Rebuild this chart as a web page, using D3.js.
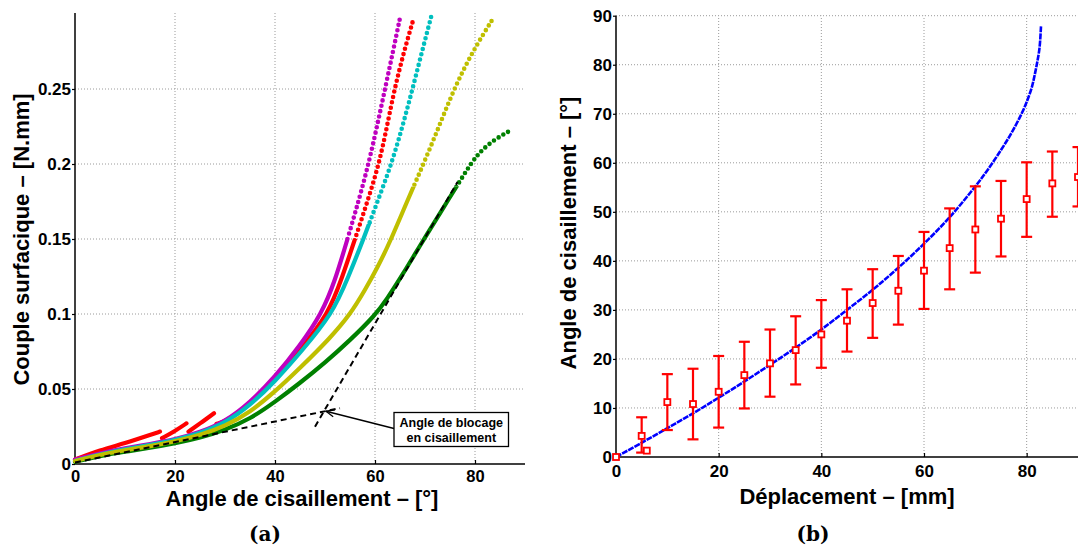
<!DOCTYPE html>
<html><head><meta charset="utf-8">
<script src="https://cdn.jsdelivr.net/npm/d3@7"></script>
<style>
body{margin:0;background:#fff}
svg text{font-family:"Liberation Sans",Arial,sans-serif;font-weight:bold;fill:#000}
</style></head><body>
<svg id="c" width="1078" height="550"></svg>
<script>
// ---------- DATA: panel (a) ----------
const leftXTicks=[0,20,40,60,80];
const leftXTickLabels=["0","20","40","60","80"];
const leftYTicks=[0,0.05,0.1,0.15,0.2,0.25];
const leftYTickLabels=["0","0.05","0.1","0.15","0.2","0.25"];
// [angle (deg), couple (N.mm)]
const magentaSeries=[[0,0.003],[5,0.0072],[10,0.0105],[15,0.0133],[20,0.0164],[25,0.021],[30,0.0282],[35,0.041],[40,0.058],[45,0.079],[49.3,0.1],[52,0.122],[54.5,0.15],[56.7,0.175],[58.7,0.2],[60.4,0.225],[62,0.25],[63.6,0.275],[65.1,0.299]];
const redSeries=[[0,0.003],[5,0.0093],[10,0.0138],[15,0.0193],[17,0.0216],null,[17.4,0.0172],[20,0.022],[22.3,0.0271],null,[22.7,0.0216],[25,0.027],[27.8,0.0338],null,[28.3,0.0268],[30,0.028],[35,0.0395],[40,0.0565],[45,0.076],[50.7,0.1],[53.5,0.125],[56,0.15],[58.5,0.175],[60.8,0.2],[62.4,0.225],[63.9,0.25],[65.8,0.275],[67.7,0.2967]];
const cyanSeries=[[0,0.002],[5,0.0065],[10,0.0098],[15,0.0127],[20,0.016],[25,0.0205],[30,0.0272],[35,0.039],[40,0.055],[45,0.074],[51.5,0.1],[54.7,0.125],[57.7,0.15],[60.5,0.175],[63.3,0.2],[65.5,0.225],[67.5,0.25],[69.4,0.275],[71.3,0.299]];
const yellowSeries=[[0,0.002],[5,0.0062],[10,0.0093],[15,0.0118],[20,0.015],[25,0.0192],[30,0.0252],[35,0.0345],[40,0.0482],[45,0.064],[51,0.0838],[55.1,0.1],[58,0.116],[60.5,0.131],[63,0.148],[66.4,0.175],[69.7,0.2],[72.8,0.225],[75.8,0.25],[79.5,0.275],[83.8,0.298]];
const greenSeries=[[0,0.0015],[5,0.0055],[10,0.0082],[15,0.0108],[20,0.0138],[25,0.0175],[30,0.0227],[35,0.03],[40,0.0414],[45,0.054],[50,0.0675],[55,0.0825],[60,0.099],[62.5,0.1105],[65,0.1235],[68.5,0.1427],[69.8,0.15],[75,0.178],[79.1,0.2],[80.3,0.205],[81.7,0.2104],[84.3,0.2171],[86.9,0.222]];
const tangentLow=[[0,0.001],[53,0.0372]];
const tangentHigh=[[48,0.0249],[76.5,0.188]];
const blockPoint=[50,0.0355];
const annotationLines=["Angle de blocage","en cisaillement"];

// ---------- DATA: panel (b) ----------
const rightXTicks=[0,20,40,60,80];
const rightYTicks=[0,10,20,30,40,50,60,70,80,90];
const modelDisp=[0,5,10,15,20,25,30,35,40,45,50,55,60,65,70,72.5,75,77,79,80,81,81.5,82,82.5,82.8];
const modelAngle=[0,2.9,5.9,8.9,12.1,15.4,18.8,22.3,26,30,34.1,38.6,43.5,48.9,55.2,58.7,62.6,66,70,72.4,75.4,77.6,80.2,83.4,88];
const expDisp=[0,5,6,10,15,20,25,30,35,40,45,50,55,60,65,70,75,80,85,90];
const expMean=[0,4.3,1.3,11.2,10.8,13.3,16.7,19.1,21.8,25.0,27.8,31.4,33.9,38.0,42.6,46.4,48.6,52.6,55.8,57.1];
const expLow=[0,0.9,1.3,5.5,3.6,6.0,9.9,12.3,14.8,18.2,21.5,24.3,27.0,30.2,34.2,37.6,40.9,44.9,49.0,51.1];
const expHigh=[0,8.1,1.3,16.9,18.0,20.6,23.5,26.0,28.7,32.0,34.2,38.3,41.0,45.9,50.7,55.2,56.3,60.1,62.3,63.2];

// ---------- DRAW ----------
const svg=d3.select("#c");
const gridColor="#9a9a9a";

function panel(xs,ys,xTicks,xLabels,yTicks,yLabels,xMax,yTopPx,xFont,xPad){
  const g=svg.append("g");
  g.selectAll(null).data(xTicks.filter(d=>d>0)).enter().append("line")
    .attr("x1",d=>xs(d)).attr("x2",d=>xs(d)).attr("y1",ys.range()[0]).attr("y2",yTopPx)
    .attr("stroke",gridColor).attr("stroke-width",1).attr("stroke-dasharray","1,2");
  g.selectAll(null).data(yTicks.filter(d=>d>0)).enter().append("line")
    .attr("x1",xs.range()[0]).attr("x2",xs(xMax)).attr("y1",d=>ys(d)).attr("y2",d=>ys(d))
    .attr("stroke",gridColor).attr("stroke-width",1).attr("stroke-dasharray","1,2");
  const xa=d3.axisBottom(xs).tickValues(xTicks).tickFormat((d,i)=>xLabels[i]).tickSize(-4).tickPadding(xPad);
  const gx=g.append("g").attr("transform",`translate(0,${ys.range()[0]})`).call(xa);
  gx.select(".domain").attr("stroke","#000").attr("stroke-width",1.5).attr("d",`M${xs.range()[0]},0H${xs(xMax)}`);
  gx.selectAll(".tick line").attr("stroke","#000").attr("stroke-width",1.2);
  gx.selectAll("text").style("font-size",xFont).attr("dy","0.75em");
  const ya=d3.axisLeft(ys).tickValues(yTicks).tickFormat((d,i)=>yLabels[i]).tickSize(3).tickPadding(1);
  const gy=g.append("g").attr("transform",`translate(${xs.range()[0]},0)`).call(ya);
  gy.select(".domain").attr("stroke","#000").attr("stroke-width",1.5).attr("d",`M0,${ys.range()[0]}V${yTopPx}`);
  gy.selectAll(".tick line").attr("stroke","#000").attr("stroke-width",1.2);
  gy.selectAll("text").style("font-size","17px");
  return g;
}

// ----- panel (a)
const xL=d3.scaleLinear().domain([0,90]).range([75,525]);
const yL=d3.scaleLinear().domain([0,0.3]).range([464,14]);
const gA=panel(xL,yL,leftXTicks,leftXTickLabels,leftYTicks,leftYTickLabels,90,13,"16.5px",6);

const lineL=d3.line().defined(d=>d!==null).x(d=>xL(d[0])).y(d=>yL(d[1])).curve(d3.curveBasis);
const defs=svg.append("defs");
const seriesList=[
  {data:redSeries,color:"#ff0000",split:0.15,id:"r"},
  {data:magentaSeries,color:"#bf00bf",split:0.15,id:"m"},
  {data:cyanSeries,color:"#00bfbf",split:0.16,id:"c"},
  {data:greenSeries,color:"#008000",split:0.185,id:"g"},
  {data:yellowSeries,color:"#bfbf00",split:0.185,id:"y"}
];
seriesList.forEach(s=>{
  defs.append("clipPath").attr("id","lo"+s.id).append("rect")
    .attr("x",0).attr("y",yL(s.split)).attr("width",1078).attr("height",550);
  defs.append("clipPath").attr("id","hi"+s.id).append("rect")
    .attr("x",0).attr("y",0).attr("width",1078).attr("height",yL(s.split));
});
seriesList.forEach(s=>{
  gA.append("path").attr("d",lineL(s.data)).attr("fill","none").attr("stroke",s.color)
    .attr("stroke-width",4.2).attr("stroke-linejoin","round").attr("stroke-linecap","round")
    .attr("clip-path",`url(#lo${s.id})`);
  gA.append("path").attr("d",lineL(s.data)).attr("fill","none").attr("stroke",s.color)
    .attr("stroke-width",4.6).attr("stroke-linecap","round").attr("stroke-dasharray","0 5.5")
    .attr("clip-path",`url(#hi${s.id})`);
});
const straight=d3.line().x(d=>xL(d[0])).y(d=>yL(d[1]));
[tangentLow,tangentHigh].forEach(t=>{
  gA.append("path").attr("d",straight(t)).attr("fill","none").attr("stroke","#000")
    .attr("stroke-width",2).attr("stroke-dasharray","6,4");
});
// annotation
const boxX=394, boxY=412.5, boxW=114.5, boxH=34;
const tip=[xL(blockPoint[0])+1,yL(blockPoint[1])+0.5];
const tail=[boxX,boxY+16];
gA.append("line").attr("x1",tail[0]).attr("y1",tail[1]).attr("x2",tip[0]).attr("y2",tip[1]).attr("stroke","#000").attr("stroke-width",1.3);
(function(){
  const ang=Math.atan2(tail[1]-tip[1],tail[0]-tip[0]);
  [0.4,-0.4].forEach(a=>{
    gA.append("line").attr("x1",tip[0]).attr("y1",tip[1])
      .attr("x2",tip[0]+9*Math.cos(ang+a)).attr("y2",tip[1]+9*Math.sin(ang+a))
      .attr("stroke","#000").attr("stroke-width",1.3);
  });
})();
gA.append("rect").attr("x",boxX).attr("y",boxY).attr("width",boxW).attr("height",boxH)
  .attr("fill","#fff").attr("stroke","#000").attr("stroke-width",1.3);
annotationLines.forEach((t,i)=>{
  gA.append("text").attr("x",boxX+boxW/2).attr("y",boxY+14.5+i*15).attr("text-anchor","middle")
    .style("font-size","12.5px").text(t);
});
// labels (a)
svg.append("text").attr("x",302).attr("y",506).attr("text-anchor","middle").style("font-size","22px").text("Angle de cisaillement – [°]");
svg.append("text").attr("transform","translate(29,239.5) rotate(-90)").attr("text-anchor","middle").style("font-size","22px").text("Couple surfacique – [N.mm]");
svg.append("text").attr("x",265).attr("y",541).attr("text-anchor","middle")
  .style("font-family","'DejaVu Serif','Liberation Serif',serif").style("font-size","20px").text("(a)");

// ----- panel (b)
const xR=d3.scaleLinear().domain([0,90]).range([616,1078]);
const yR=d3.scaleLinear().domain([0,90]).range([457,15.7]);
const gB=panel(xR,yR,rightXTicks,rightXTicks.map(String),rightYTicks,rightYTicks.map(String),90,15.7,"17px",7);
const model=modelDisp.map((d,i)=>[d,modelAngle[i]]);
gB.append("path").attr("d",d3.line().x(d=>xR(d[0])).y(d=>yR(d[1])).curve(d3.curveCatmullRom.alpha(0.5))(model))
  .attr("fill","none").attr("stroke","#0000ff").attr("stroke-width",2.6).attr("stroke-dasharray","6,1");
const exp=expDisp.map((d,i)=>({x:d,m:expMean[i],lo:expLow[i],hi:expHigh[i]}));
const eb=gB.selectAll(null).data(exp.filter(d=>d.hi>d.lo)).enter().append("g");
eb.append("line").attr("x1",d=>xR(d.x)).attr("x2",d=>xR(d.x)).attr("y1",d=>yR(d.lo)).attr("y2",d=>yR(d.hi)).attr("stroke","#ff0000").attr("stroke-width",2.2);
["lo","hi"].forEach(k=>{
  eb.append("line").attr("x1",d=>xR(d.x)-5.5).attr("x2",d=>xR(d.x)+5.5).attr("y1",d=>yR(d[k])).attr("y2",d=>yR(d[k])).attr("stroke","#ff0000").attr("stroke-width",2.2);
});
gB.selectAll(null).data(exp).enter().append("rect")
  .attr("x",d=>xR(d.x)-3).attr("y",d=>yR(d.m)-3).attr("width",6).attr("height",6)
  .attr("fill","#fff").attr("stroke","#ff0000").attr("stroke-width",1.8);
// labels (b)
svg.append("text").attr("x",847).attr("y",504).attr("text-anchor","middle").style("font-size","22px").text("Déplacement – [mm]");
svg.append("text").attr("transform","translate(576,233) rotate(-90)").attr("text-anchor","middle").style("font-size","22px").text("Angle de cisaillement – [°]");
svg.append("text").attr("x",813).attr("y",541).attr("text-anchor","middle")
  .style("font-family","'DejaVu Serif','Liberation Serif',serif").style("font-size","20px").text("(b)");
</script>
</body></html>
